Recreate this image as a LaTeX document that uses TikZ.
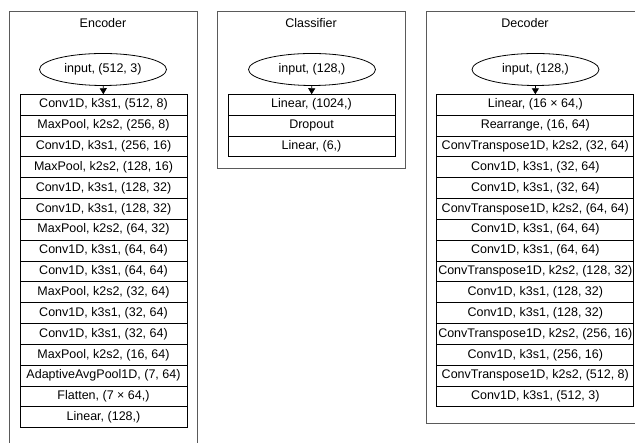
\documentclass[tikz,border=0pt]{standalone}
\usepackage{fontspec}
\setmainfont{Liberation Sans}
\usepackage{tikz}
\usetikzlibrary{arrows.meta,positioning,shapes.geometric}
\definecolor{framegray}{HTML}{5A5A5A}

\begin{document}
\begin{tikzpicture}[x=1pt, y=1pt,
  every node/.style={font=\fontsize{12.5}{14}\selectfont},
  frame/.style={draw=framegray, line width=0.9pt},
  ttl/.style={inner sep=0pt},
  inp/.style={ellipse, draw, line width=0.8pt, minimum width=127pt, minimum height=32pt, inner sep=0pt},
  lay/.style={draw, line width=0.8pt, fill=white, minimum width=167pt, minimum height=20.84pt,
              inner sep=0pt, outer sep=0pt},
  wlay/.style={lay, minimum width=197pt},
  ar/.style={-{Triangle[length=6pt, width=7pt]}, line width=0.8pt}
]
  \useasboundingbox (0,0) rectangle (635,443);

  % containers
  \draw[frame] (9,432) rectangle (197,-10);
  \draw[frame] (217,432) rectangle (405,275);
  \draw[frame] (426,432) rectangle (650,20);

  \node[ttl] (enc) at (103,420) {Encoder};
  \node[ttl] (cls) at (311,420) {Classifier};
  \node[ttl] (dec) at (525,420) {Decoder};

  % encoder
  \node[inp] (ein) at (103,373.5) {input, (512, 3)};
  \node[lay] (e1) at (103.5,338.3) {Conv1D, k3s1, (512, 8)};
  \node[lay, below=0pt of e1] (e2) {MaxPool, k2s2, (256, 8)};
  \node[lay, below=0pt of e2] (e3) {Conv1D, k3s1, (256, 16)};
  \node[lay, below=0pt of e3] (e4) {MaxPool, k2s2, (128, 16)};
  \node[lay, below=0pt of e4] (e5) {Conv1D, k3s1, (128, 32)};
  \node[lay, below=0pt of e5] (e6) {Conv1D, k3s1, (128, 32)};
  \node[lay, below=0pt of e6] (e7) {MaxPool, k2s2, (64, 32)};
  \node[lay, below=0pt of e7] (e8) {Conv1D, k3s1, (64, 64)};
  \node[lay, below=0pt of e8] (e9) {Conv1D, k3s1, (64, 64)};
  \node[lay, below=0pt of e9] (e10) {MaxPool, k2s2, (32, 64)};
  \node[lay, below=0pt of e10] (e11) {Conv1D, k3s1, (32, 64)};
  \node[lay, below=0pt of e11] (e12) {Conv1D, k3s1, (32, 64)};
  \node[lay, below=0pt of e12] (e13) {MaxPool, k2s2, (16, 64)};
  \node[lay, below=0pt of e13] (e14) {AdaptiveAvgPool1D, (7, 64)};
  \node[lay, below=0pt of e14] (e15) {Flatten, (7 × 64,)};
  \node[lay, below=0pt of e15] (e16) {Linear, (128,)};
  \draw[ar] (ein) -- (e1);

  % classifier
  \node[inp] (cin) at (312,373.5) {input, (128,)};
  \node[lay] (c1) at (311.5,338.3) {Linear, (1024,)};
  \node[lay, below=0pt of c1] (c2) {Dropout};
  \node[lay, below=0pt of c2] (c3) {Linear, (6,)};
  \draw[ar] (cin) -- (c1);

  % decoder
  \node[inp] (din) at (535.5,373.5) {input, (128,)};
  \node[wlay] (d1) at (535.3,338.3) {Linear, (16 × 64,)};
  \node[wlay, below=0pt of d1] (d2) {Rearrange, (16, 64)};
  \node[wlay, below=0pt of d2] (d3) {ConvTranspose1D, k2s2, (32, 64)};
  \node[wlay, below=0pt of d3] (d4) {Conv1D, k3s1, (32, 64)};
  \node[wlay, below=0pt of d4] (d5) {Conv1D, k3s1, (32, 64)};
  \node[wlay, below=0pt of d5] (d6) {ConvTranspose1D, k2s2, (64, 64)};
  \node[wlay, below=0pt of d6] (d7) {Conv1D, k3s1, (64, 64)};
  \node[wlay, below=0pt of d7] (d8) {Conv1D, k3s1, (64, 64)};
  \node[wlay, below=0pt of d8] (d9) {ConvTranspose1D, k2s2, (128, 32)};
  \node[wlay, below=0pt of d9] (d10) {Conv1D, k3s1, (128, 32)};
  \node[wlay, below=0pt of d10] (d11) {Conv1D, k3s1, (128, 32)};
  \node[wlay, below=0pt of d11] (d12) {ConvTranspose1D, k2s2, (256, 16)};
  \node[wlay, below=0pt of d12] (d13) {Conv1D, k3s1, (256, 16)};
  \node[wlay, below=0pt of d13] (d14) {ConvTranspose1D, k2s2, (512, 8)};
  \node[wlay, below=0pt of d14] (d15) {Conv1D, k3s1, (512, 3)};
  \draw[ar] (din) -- (d1);
\end{tikzpicture}
\end{document}
